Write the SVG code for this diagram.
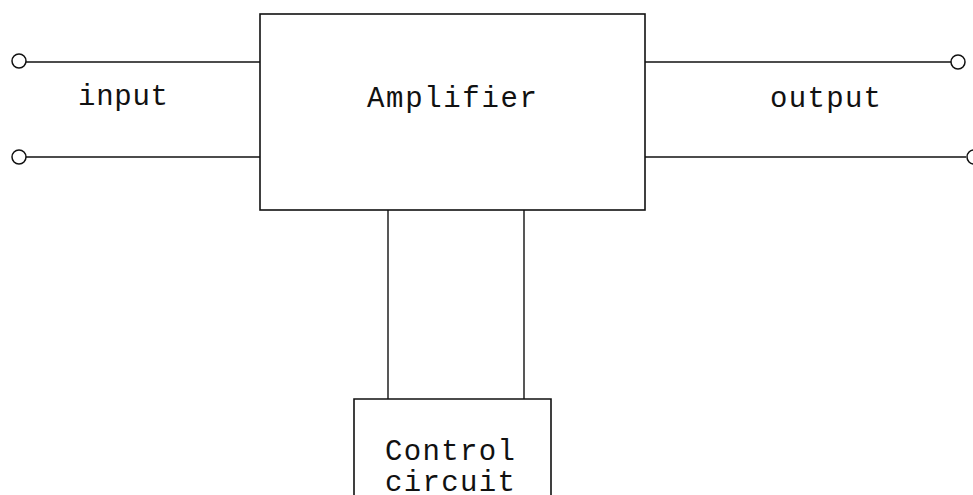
<svg xmlns="http://www.w3.org/2000/svg" width="973" height="495" viewBox="0 0 973 495">
<style>
.box{fill:none;stroke:#111;stroke-width:1.6}
.ln{fill:none;stroke:#111;stroke-width:1.4}
.term{fill:#fff;stroke:#111;stroke-width:1.5}
.t{font-family:"Liberation Mono","DejaVu Sans Mono",monospace;font-size:29px;fill:#111}
</style>
<rect width="973" height="495" fill="#fff"/>
<g id="connectors">
<line class="ln" x1="26" y1="62" x2="260" y2="62"/>
<line class="ln" x1="26" y1="157" x2="260" y2="157"/>
<line class="ln" x1="645" y1="62" x2="951" y2="62"/>
<line class="ln" x1="645" y1="157" x2="966" y2="157"/>
<line class="ln" x1="388" y1="210" x2="388" y2="399"/>
<line class="ln" x1="524" y1="210" x2="524" y2="399"/>
</g>
<g id="terminals">
<circle class="term" cx="19" cy="61" r="7"/>
<circle class="term" cx="19" cy="157" r="7"/>
<circle class="term" cx="958" cy="62" r="7"/>
<circle class="term" cx="974" cy="157" r="7"/>
</g>
<g id="amplifier">
<rect class="box" x="260" y="14" width="385" height="196"/>
<text class="t" x="367" y="107" textLength="170">Amplifier</text>
</g>
<g id="control">
<polyline class="box" points="354,500 354,399 551,399 551,500"/>
<text class="t" x="385" y="460" textLength="130">Control</text>
<text class="t" x="385" y="491" textLength="130">circuit</text>
</g>
<g id="labels">
<text class="t" x="78" y="105" textLength="90">input</text>
<text class="t" x="770" y="107" textLength="111">output</text>
</g>
</svg>
